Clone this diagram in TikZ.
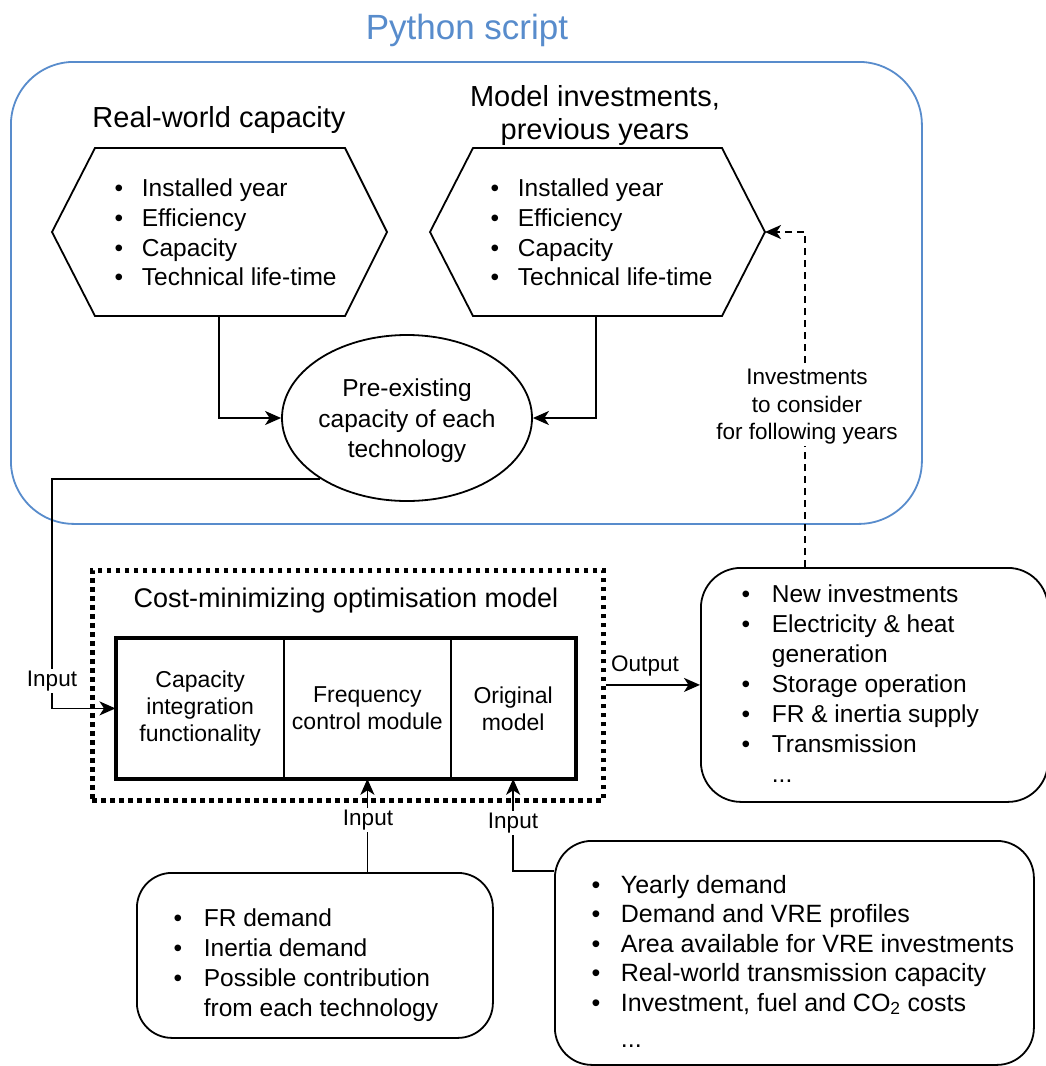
\documentclass[tikz,border=0pt]{standalone}
\usepackage{fontspec}
\setmainfont{Liberation Sans}
\usetikzlibrary{arrows.meta,shapes.geometric}
\definecolor{pyblue}{RGB}{88,140,204}
\newcommand\fsz[2]{\fontsize{#1}{#2}\selectfont}
\newcommand\blt[1]{\makebox[0pt][c]{\textbullet}\hspace{#1pt}}
\begin{document}
\begin{tikzpicture}[x=1pt,y=-1pt, line width=1.8pt, line join=miter,
  arr/.style={-{Stealth[length=16pt,width=14pt,inset=4.5pt]}},
  lbl/.style={font=\fsz{22.5}{27.5}, fill=white, inner sep=1.5pt, align=center},
  blist/.style={anchor=north west, align=left, inner sep=0pt, font=\fsz{24.5}{29.7}},
  cell/.style={draw, line width=1.8pt, minimum height=139pt, inner sep=0pt, align=center, font=\fsz{23}{27}, anchor=north west},
  rbox/.style={draw, anchor=north west, inner sep=0pt}]
\fill[white] (0,0) rectangle (1046,1066);
\useasboundingbox (0,0) rectangle (1046,1066);

% Python script frame
\node[font=\fsz{35}{40}, text=pyblue] (pytitle) at (467,30) {Python script};
\node[rbox, draw=pyblue, rounded corners=63pt, minimum width=911pt, minimum height=462pt] (py) at (10,61) {};

% hexagons
\draw (52,232) coordinate (h1l) -- (95,148) -- (345,148) -- (387,232) -- (345,316) -- (95,316) -- cycle;
\coordinate (h1b) at (219,316);
\draw (430,232) coordinate (h2l) -- (473,148) -- (722,148) -- (765,232) coordinate (h2r) -- (722,316) -- (473,316) -- cycle;
\coordinate (h2b) at (596,316);

\node[font=\fsz{29}{33}] (rwc) at (219,120) {Real-world capacity};
\node[font=\fsz{29}{33}, align=center] (mip) at (595,115) {Model investments,\\previous years};

\node[blist] (l1) at (118,178) {\blt{23}Installed year\\\blt{23}Efficiency\\\blt{23}Capacity\\\blt{23}Technical life-time};
\node[blist] (l2) at (494,178) {\blt{23}Installed year\\\blt{23}Efficiency\\\blt{23}Capacity\\\blt{23}Technical life-time};

% ellipse
\node[draw, ellipse, minimum width=250pt, minimum height=166pt, inner sep=0pt] (pre) at (407,418) {};
\node[font=\fsz{24.5}{30.5}, align=center, inner sep=0pt] (pretext) at (407,421) {Pre-existing\\capacity of each\\technology};

\draw[arr] (h1b) |- (pre.west);
\draw[arr] (h2b) |- (pre.east);

% optimisation model
\node[rbox, line width=4.5pt, dash pattern=on 4.5pt off 4.5pt, minimum width=511pt, minimum height=230pt] (dotbox) at (90,568) {};
\node[font=\fsz{27}{31}] (cmtitle) at (346,601) {Cost-minimizing optimisation model};

\node[cell, minimum width=167.5pt] (cap) at (115.5,638) {Capacity\\integration\\functionality};
\node[cell, minimum width=167pt] (freq) at (283,638) {Frequency\\control module};
\node[cell, minimum width=124.5pt] (orig) at (450,638) {Original\\model};
\draw[line width=4pt] (cap.north west) rectangle (orig.south east);

% output box
\node[rbox, rounded corners=40pt, minimum width=347pt, minimum height=234pt] (out) at (700,567) {};
\node[blist, font=\fsz{24.5}{30}] (ol) at (745,584) {\blt{26}New investments\\\blt{26}Electricity \& heat\\\hspace{26pt}generation\\\blt{26}Storage operation\\\blt{26}FR \& inertia supply\\\blt{26}Transmission\\\hspace{26pt}...};

% bottom boxes
\node[rbox, rounded corners=35pt, minimum width=356pt, minimum height=165pt] (fr) at (136,872) {};
\node[blist, font=\fsz{24.5}{30}] (fl) at (177,908) {\blt{26}FR demand\\\blt{26}Inertia demand\\\blt{26}Possible contribution\\\hspace{26pt}from each technology};

\node[rbox, rounded corners=37pt, minimum width=479pt, minimum height=224pt] (br) at (554,840) {};
\node[blist, font=\fsz{25}{29.5}] (bl) at (595,874) {\blt{25}Yearly demand\\\blt{25}Demand and VRE profiles\\\blt{25}Area available for VRE investments\\\blt{25}Real-world transmission capacity\\\blt{25}Investment, fuel and CO\textsubscript{2} costs\\[7pt]\hspace{25pt}...};

% connectors
\coordinate (bendL) at (52,478);
\draw[arr] (pre.215) -- (pre.215 -| bendL) |- (cap.west);
\draw[arr] (dotbox.east |- out.west) -- (out.west);
\draw[arr, dash pattern=on 7pt off 5pt] ([xshift=105pt]out.north west) |- (h2r);
\draw[arr] (fr.north -| freq.south) -- (freq.south);
\draw[arr] ([yshift=-31pt]br.north west) -| (orig.south);

% labels
\node[lbl] (in1) at (52,681) {Input};
\node[lbl] (in2) at (368,820) {Input};
\node[lbl] (in3) at (513,823) {Input};
\node[lbl, fill=none] (outl) at (645,666) {Output};
\node[lbl] (invl) at (807,407) {Investments\\to consider\\for following years};
\end{tikzpicture}
\end{document}
